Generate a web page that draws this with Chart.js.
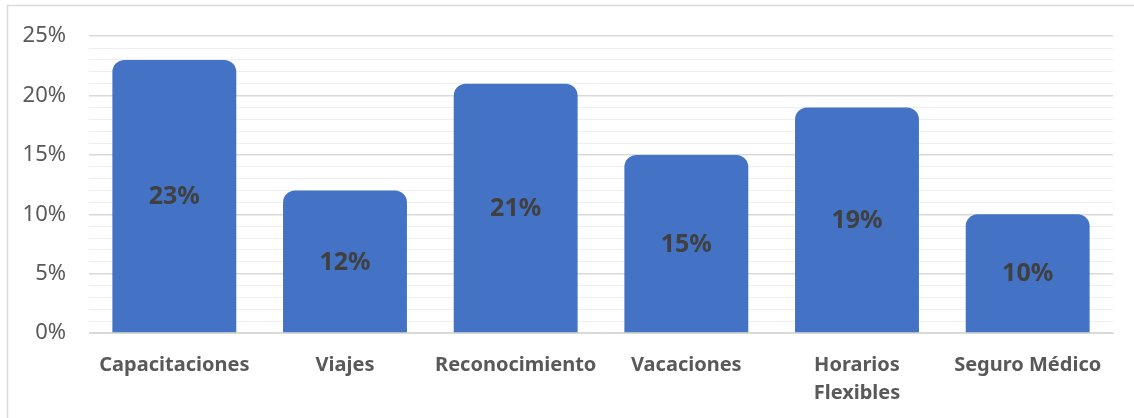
<!DOCTYPE html>
<html>
<head>
<meta charset="utf-8">
<script src="https://cdn.jsdelivr.net/npm/chart.js@4/dist/chart.umd.min.js"></script>
<style>
  html, body { margin: 0; padding: 0; background: #fff; }
  #wrap { width: 1134px; height: 418px; position: relative; }
</style>
</head>
<body>
<div id="wrap"><canvas id="c"></canvas></div>
<script>
// Benefit categories and the share of responses for each
const categories = ['Capacitaciones', 'Viajes', 'Reconocimiento', 'Vacaciones', ['Horarios', 'Flexibles'], 'Seguro Médico'];
const shares = [0.23, 0.12, 0.21, 0.15, 0.19, 0.10];
const yTickLabels = ['0%', '5%', '10%', '15%', '20%', '25%'];

const FONT = '"Noto Sans", "Open Sans", sans-serif';

// Outer frame around the chart
const framePlugin = {
  id: 'frame',
  afterDraw(chart) {
    const ctx = chart.ctx;
    ctx.save();
    ctx.strokeStyle = '#d9d9d9';
    ctx.lineWidth = 1.5;
    ctx.strokeRect(7.5, 5.5, chart.width, chart.height);
    ctx.restore();
  }
};

// Percentage written in the middle of each bar
const valueLabels = {
  id: 'valueLabels',
  afterDatasetsDraw(chart) {
    const ctx = chart.ctx;
    const meta = chart.getDatasetMeta(0);
    ctx.save();
    ctx.font = 'bold 25px ' + FONT;
    ctx.fillStyle = '#404040';
    ctx.textAlign = 'center';
    ctx.textBaseline = 'middle';
    meta.data.forEach((bar, i) => {
      const v = chart.data.datasets[0].data[i];
      const y = (bar.y + bar.base) / 2;
      ctx.fillText(Math.round(v * 100) + '%', bar.x, y + 1);
    });
    ctx.restore();
  }
};

new Chart(document.getElementById('c'), {
  type: 'bar',
  data: {
    labels: categories,
    datasets: [{
      data: shares,
      backgroundColor: '#4472c4',
      borderRadius: { topLeft: 12, topRight: 12, bottomLeft: 0, bottomRight: 0 },
      borderSkipped: 'start',
      categoryPercentage: 0.726,
      barPercentage: 1
    }]
  },
  options: {
    responsive: true,
    maintainAspectRatio: false,
    animation: false,
    layout: { padding: { left: 0, top: 35, right: 21, bottom: 0 } },
    plugins: { legend: { display: false }, tooltip: { enabled: false } },
    scales: {
      x: {
        grid: { display: false, drawTicks: false },
        border: { display: true, color: '#d9d9d9', width: 1 },
        ticks: {
          color: '#595959',
          font: { family: FONT, size: 20, weight: 'bold', lineHeight: 1.4 },
          padding: 18,
          maxRotation: 0,
          autoSkip: false
        },
        afterFit(scale) { scale.height = 85; }
      },
      y: {
        min: 0,
        max: 0.25,
        afterBuildTicks(scale) {
          const t = [];
          for (let i = 0; i <= 25; i++) t.push({ value: i / 100 });
          scale.ticks = t;
        },
        grid: {
          drawTicks: false,
          color(ctx) {
            const v = Math.round(ctx.tick.value * 100);
            return v % 5 === 0 ? '#d9d9d9' : '#efefef';
          },
          lineWidth(ctx) {
            const v = Math.round(ctx.tick.value * 100);
            return v % 5 === 0 ? 1.5 : 1;
          }
        },
        border: { display: false },
        ticks: {
          autoSkip: false,
          color: '#595959',
          font: { family: FONT, size: 22 },
          padding: 23,
          callback(value) {
            const v = Math.round(value * 100);
            return v % 5 === 0 ? yTickLabels[v / 5] : '';
          }
        },
        afterFit(scale) { scale.width = 89; }
      }
    }
  },
  plugins: [framePlugin, valueLabels]
});
</script>
</body>
</html>
